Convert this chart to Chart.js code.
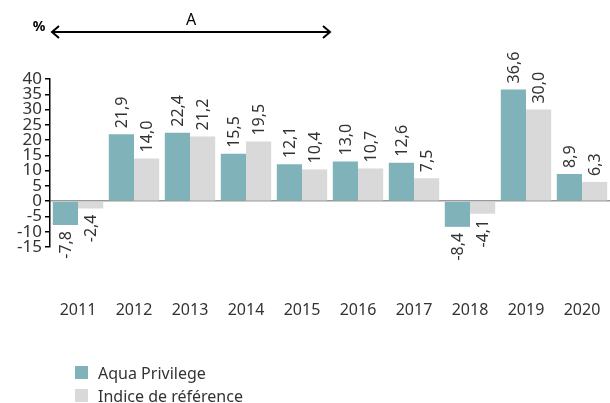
<!DOCTYPE html>
<html>
<head>
<meta charset="utf-8">
<script src="https://cdn.jsdelivr.net/npm/chart.js@4/dist/chart.umd.min.js"></script>
<style>
  body { margin: 0; background: #fff; }
  #wrap { position: relative; width: 610px; height: 403px; }
  #legend { position: absolute; left: 75px; top: 361px; font-family: "Noto Sans", sans-serif; font-size: 16px; color: #333; }
  #legend div { display: flex; align-items: center; height: 23px; }
  #legend span.box { display: inline-block; width: 13px; height: 13px; margin-right: 10px; }
</style>
</head>
<body>
<div id="wrap">
  <canvas id="chart" width="610" height="403"></canvas>
  <div id="legend"></div>
</div>
<script>
const years = ["2011", "2012", "2013", "2014", "2015", "2016", "2017", "2018", "2019", "2020"];
const aquaPrivilege = [-7.8, 21.9, 22.4, 15.5, 12.1, 13.0, 12.6, -8.4, 36.6, 8.9];
const indiceReference = [-2.4, 14.0, 21.2, 19.5, 10.4, 10.7, 7.5, -4.1, 30.0, 6.3];
const seriesNames = ["Aqua Privilege", "Indice de référence"];
const seriesColors = ["#7fb3b9", "#d9d9d9"];

const font = '"Noto Sans", sans-serif';

// value labels, rotated, above / below each bar
const valueLabels = {
  id: "valueLabels",
  afterDatasetsDraw(chart) {
    const ctx = chart.ctx;
    ctx.save();
    ctx.fillStyle = "#333";
    ctx.font = "16px " + font;
    ctx.textBaseline = "middle";
    chart.data.datasets.forEach((ds, i) => {
      chart.getDatasetMeta(i).data.forEach((bar, j) => {
        const v = ds.data[j];
        const txt = v.toFixed(1).replace(".", ",");
        ctx.save();
        if (v >= 0) {
          ctx.translate(bar.x, bar.y - 6);
          ctx.rotate(-Math.PI / 2);
          ctx.textAlign = "left";
        } else {
          ctx.translate(bar.x, bar.y + 6);
          ctx.rotate(-Math.PI / 2);
          ctx.textAlign = "right";
        }
        ctx.fillText(txt, 0, 1);
        ctx.restore();
      });
    });
    ctx.restore();
  }
};

// "%" unit and the period arrow "A" over 2011-2015
const topNotes = {
  id: "topNotes",
  afterDraw(chart) {
    const ctx = chart.ctx;
    const x = chart.scales.x;
    const half = (x.getPixelForValue(1) - x.getPixelForValue(0)) / 2;
    const x0 = x.getPixelForValue(0) - half + 2;
    const x1 = x.getPixelForValue(4) + half;
    const y = 32;
    ctx.save();
    ctx.fillStyle = "#000";
    ctx.font = "bold 14px " + font;
    ctx.textAlign = "center";
    ctx.textBaseline = "middle";
    ctx.fillText("%", 39, 27);
    ctx.font = "16px " + font;
    ctx.fillText("A", (x0 + x1) / 2, 20);
    ctx.strokeStyle = "#000";
    ctx.lineWidth = 2;
    ctx.beginPath();
    ctx.moveTo(x0, y);
    ctx.lineTo(x1, y);
    ctx.moveTo(x0 + 7, y - 6);
    ctx.lineTo(x0, y);
    ctx.lineTo(x0 + 7, y + 6);
    ctx.moveTo(x1 - 7, y - 6);
    ctx.lineTo(x1, y);
    ctx.lineTo(x1 - 7, y + 6);
    ctx.stroke();
    ctx.restore();
  }
};

const chart = new Chart(document.getElementById("chart").getContext("2d"), {
  type: "bar",
  data: {
    labels: years,
    datasets: [
      { label: seriesNames[0], data: aquaPrivilege, backgroundColor: seriesColors[0] },
      { label: seriesNames[1], data: indiceReference, backgroundColor: seriesColors[1] }
    ]
  },
  options: {
    responsive: false,
    animation: false,
    categoryPercentage: 0.9,
    barPercentage: 1.0,
    layout: { padding: { top: 79, right: 0, left: 0, bottom: 0 } },
    plugins: {
      legend: { display: false },
      tooltip: { enabled: false }
    },
    scales: {
      x: {
        grid: { display: true, drawOnChartArea: false, drawTicks: true, tickLength: 54, tickColor: "transparent" },
        border: { display: false },
        ticks: { color: "#333", font: { family: font, size: 16 }, padding: 0, maxRotation: 0 },
        afterFit(scale) { scale.height = 156; }
      },
      y: {
        min: -15,
        max: 40,
        ticks: { stepSize: 5, autoSkip: false, color: "#333", font: { family: font, size: 17, lineHeight: 1 }, padding: 3 },
        grid: {
          color: (c) => (c.tick && c.tick.value === 0 ? "#999" : "transparent"),
          lineWidth: 1.5,
          tickColor: "#000",
          tickLength: 5
        },
        border: { color: "#000", width: 1.5 },
        afterFit(scale) { scale.width = 50; }
      }
    }
  },
  plugins: [valueLabels, topNotes]
});

const legend = document.getElementById("legend");
chart.data.datasets.forEach((ds) => {
  const row = document.createElement("div");
  row.innerHTML = '<span class="box" style="background:' + ds.backgroundColor + '"></span>' + ds.label;
  legend.appendChild(row);
});
</script>
</body>
</html>
